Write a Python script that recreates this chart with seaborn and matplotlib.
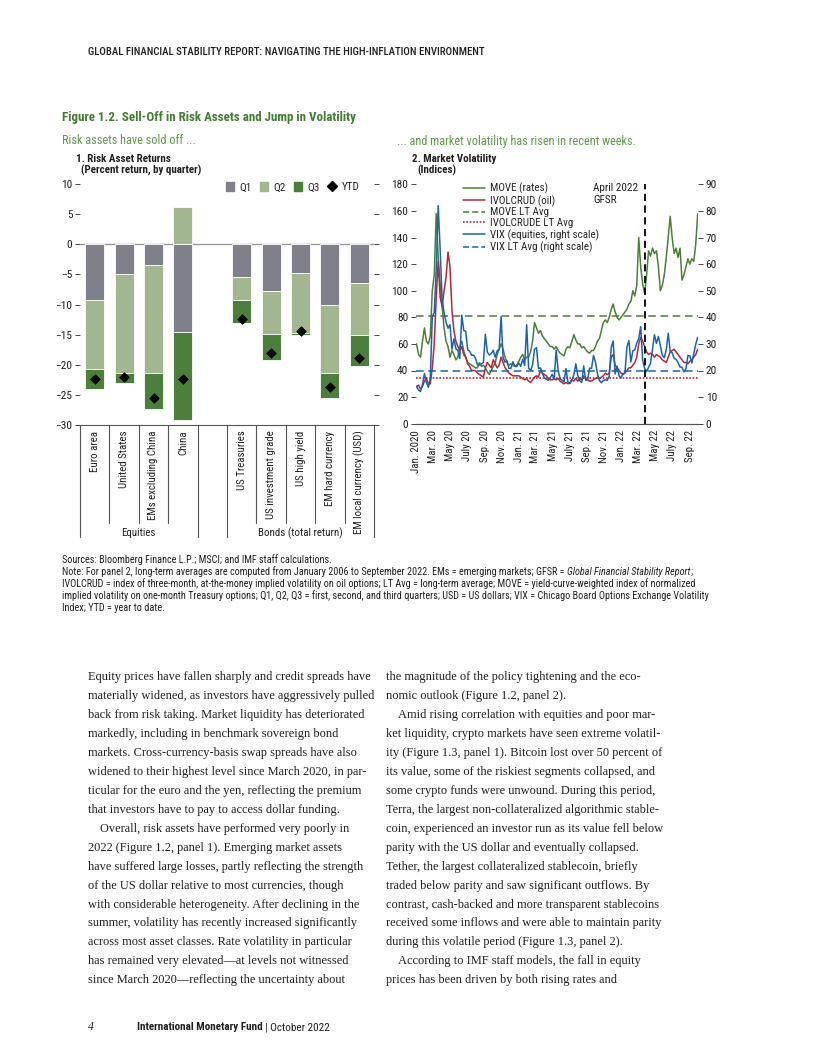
import numpy as np
import pandas as pd
import matplotlib
matplotlib.use("Agg")
import matplotlib.pyplot as plt
import matplotlib.transforms as mtransforms
from matplotlib.lines import Line2D
from matplotlib.patches import Patch
from matplotlib import font_manager
import seaborn as sns

# ---------------------------------------------------------------- data
categories = ["Euro area", "United States", "EMs excluding China", "China",
              "US Treasuries", "US investment grade", "US high yield",
              "EM hard currency", "EM local currency (USD)"]
groups = ["Equities"] * 4 + ["Bonds (total return)"] * 5
q1 = [-9.2, -4.9, -3.5, -14.5, -5.5, -7.7, -4.8, -10.0, -6.4]
q2 = [-11.5, -16.5, -17.9, 6.2, -3.8, -7.2, -9.9, -11.4, -8.7]
q3 = [-3.3, -1.7, -6.0, -14.6, -3.8, -4.3, -0.3, -4.2, -5.1]
ytd = [-22.4, -22.0, -25.5, -22.4, -12.4, -18.1, -14.4, -23.7, -18.9]

# weekly readings (Fridays), Jan 3 2020 .. Sep 30 2022
move = [60, 52, 50, 62, 72, 62, 60, 66, 100, 112, 158, 125, 105, 88, 72, 62, 58,
        50, 55, 52, 48, 50, 58, 62, 55, 50, 46, 45, 44, 43, 42, 42, 46, 43, 44,
        42, 39, 37, 40, 43, 46, 52, 56, 60, 56, 50, 46, 44, 45, 44, 43, 44,
        47, 50, 52, 48, 50, 50, 54, 62, 76, 72, 68, 70, 66, 64, 62, 60, 58, 58,
        56, 58, 55, 53, 52, 51, 56, 58, 57, 62, 67, 63, 60, 60, 57, 58, 56,
        54, 53, 55, 55, 58, 62, 64, 70, 76, 78, 76, 80, 86, 90, 84, 80, 78, 80,
        82, 84, 86, 90, 92, 100, 96, 104, 140, 118, 105, 98, 112, 130, 126, 132, 128,
        130, 118, 100, 104, 112, 125, 140, 156, 140, 128, 132, 125, 132,
        108, 112, 118, 124, 120, 124, 122, 135, 158]
ivolcrud = [28, 29, 26, 28, 32, 34, 30, 30, 42, 60, 95, 122, 95, 88, 100, 110, 129,
            118, 85, 70, 62, 58, 55, 58, 52, 50, 45, 43, 40, 40, 40, 38, 37, 36, 35,
            42, 46, 44, 42, 48, 45, 42, 44, 50, 46, 42, 40, 38, 37, 36, 36, 36,
            36, 35, 34, 33, 34, 32, 31, 33, 35, 36, 35, 40, 38, 37, 36, 34, 33, 33,
            34, 33, 34, 32, 31, 30, 31, 30, 31, 33, 32, 34, 32, 34, 33, 36, 34,
            33, 32, 32, 33, 34, 35, 34, 35, 36, 38, 37, 38, 50, 52, 44, 42, 40, 38,
            37, 38, 40, 42, 42, 44, 46, 50, 60, 65, 62, 58, 54, 52, 53, 52, 50,
            52, 51, 50, 48, 47, 46, 50, 54, 55, 56, 54, 52, 50,
            48, 46, 46, 45, 47, 48, 50, 52, 56]
vix = [14.0, 12.6, 12.1, 14.6, 18.8, 15.5, 13.7, 17.1, 40.1, 41.9, 57.8, 82.0, 65.5,
       46.8, 41.7, 38.2, 35.9, 37.2, 28.0, 31.9, 28.2, 27.5, 24.5, 40.8, 35.1, 34.7,
       27.7, 27.3, 25.7, 25.8, 24.5, 22.2, 22.1, 22.5, 23.0, 33.6, 26.9, 25.8, 26.4,
       27.6, 25.0, 27.4, 28.0, 40.3, 24.9, 23.1, 23.7, 20.8, 20.8, 23.3, 21.6, 21.5,
       22.8, 21.6, 24.3, 21.9, 37.2, 20.9, 20.0, 22.1, 28.0, 28.6, 20.7, 21.0, 18.9,
       17.3, 16.7, 16.3, 17.3, 18.6, 16.7, 27.6, 20.2, 16.8, 16.4, 15.7, 20.7, 15.6,
       15.1, 16.2, 18.5, 22.5, 18.2, 16.2, 15.5, 21.7, 16.4, 16.4, 20.9, 20.8, 25.7,
       23.1, 18.8, 16.3, 15.4, 16.3, 16.5, 16.3, 17.9, 28.6, 31.1, 18.7, 21.6, 18.0, 17.2,
       18.8, 19.2, 28.9, 31.2, 23.2, 27.4, 27.8, 30.3, 32.0, 36.5, 23.9, 20.8,
       19.6, 21.2, 22.7, 28.2, 33.4, 30.2, 32.8, 29.4, 25.7, 24.8, 27.8, 34.0, 27.2,
       26.7, 24.6, 24.2, 23.0, 21.3, 21.2, 19.5, 20.6, 25.6, 25.5, 22.8, 26.3, 29.9, 32.5]
move_lt_avg = 81.0
ivolcrud_lt_avg = 34.5
vix_lt_avg = 19.8
gfsr_date = "2022-03-28"
date_tick_labels = ["Jan. 2020", "Mar. 20", "May 20", "July 20", "Sep. 20", "Nov. 20",
                    "Jan. 21", "Mar. 21", "May 21", "July 21", "Sep. 21", "Nov. 21",
                    "Jan. 22", "Mar. 22", "May 22", "July 22", "Sep. 22"]

dates = pd.date_range("2020-01-03", periods=len(move), freq="W-FRI")

# ---------------------------------------------------------------- style
sns.set_theme(style="white")
avail = {f.name for f in font_manager.fontManager.ttflist}
COND = next((f for f in ["Liberation Sans Narrow", "DejaVu Sans Condensed",
                         "Roboto Condensed", "Open Sans Condensed", "Noto Sans Condensed"]
             if f in avail), "Liberation Sans")
SANS = [COND, "DejaVu Sans"]
SERIF = ["Liberation Serif", "DejaVu Serif"]
plt.rcParams["font.family"] = SANS
plt.rcParams["axes.unicode_minus"] = True

INK = "#231f20"
C_Q1, C_Q2, C_Q3 = "#80808a", "#a2b78f", "#4c7f3b"
C_MOVE, C_OIL, C_VIX = "#4d7f37", "#b3283b", "#1b63ae"
C_TITLE, C_SUB = "#437c34", "#5e9b4a"

W, H = 816, 1056
fig = plt.figure(figsize=(W / 100, H / 100), dpi=100)
fig.patch.set_facecolor("white")
renderer = fig.canvas.get_renderer()


def put(x, y, s, size, family=SANS, color=INK, ha="left", va="center", **kw):
    return fig.text(x / W, 1 - y / H, s, fontsize=size, family=family, color=color,
                    ha=ha, va=va, **kw)


def width_px(s, size, family=SANS, **kw):
    t = fig.text(0, 0, s, fontsize=size, family=family, **kw)
    w = t.get_window_extent(renderer).width
    t.remove()
    return w


def fit(s, target, family=SANS, **kw):
    return 10 * target / width_px(s, 10, family=family, **kw)


# ---------------------------------------------------------------- header & titles
hdr = "GLOBAL FINANCIAL STABILITY REPORT: NAVIGATING THE HIGH-INFLATION ENVIRONMENT"
put(88, 52, hdr, min(fit(hdr, 395, weight="medium"), 8.0), color="#222222",
    weight="medium")
ttl = "Figure 1.2. Sell-Off in Risk Assets and Jump in Volatility"
put(62, 117, ttl, fit(ttl, 294, weight="bold"), color=C_TITLE, weight="bold")
put(62, 141, "Risk assets have sold off ...", 8.8, color=C_SUB)
put(397, 141, "... and market volatility has risen in recent weeks.", 8.8, color=C_SUB)
put(76, 159, "1. Risk Asset Returns", 7.9, weight="bold")
put(81, 170, "(Percent return, by quarter)", 7.9, weight="bold")
put(412, 159, "2. Market Volatility", 7.9, weight="bold")
put(417, 170, "(Indices)", 7.9, weight="bold")

# ---------------------------------------------------------------- panel 1
ax1 = fig.add_axes([80 / W, 1 - 425 / H, (374 - 80) / W, (425 - 184) / H])
xpos, gap = [], 0
for i, g in enumerate(groups):
    if i > 0 and g != groups[i - 1]:
        gap += 1
    xpos.append(i + gap)
xpos = np.array(xpos, dtype=float)

pos_base = np.zeros(len(xpos))
neg_base = np.zeros(len(xpos))
for vals, col, lab in [(q1, C_Q1, "Q1"), (q2, C_Q2, "Q2"), (q3, C_Q3, "Q3")]:
    v = np.array(vals, dtype=float)
    bottom = np.where(v >= 0, pos_base, neg_base)
    ax1.bar(xpos, v, bottom=bottom, width=0.65, color=col, edgecolor="white",
            linewidth=0.6, zorder=2, label=lab)
    pos_base += np.where(v >= 0, v, 0)
    neg_base += np.where(v < 0, v, 0)
sns.scatterplot(x=xpos, y=ytd, ax=ax1, marker="D", s=24, color="black",
                edgecolor="black", linewidth=0.5, zorder=4, legend=False)
ax1.axhline(0, color="#9a9a9a", lw=1.0, zorder=1)
ax1.set_xlim(-0.5, xpos[-1] + 0.5)
ax1.set_ylim(-30, 10)
ax1.set_yticks(range(-30, 11, 5))
ax1.set_xticks(xpos)
ax1.set_xticklabels(categories, rotation=90, va="top", ha="center", fontsize=7.8, color=INK)
ax1.tick_params(axis="x", length=0, pad=4)
ax1.tick_params(axis="y", left=True, right=True, labelleft=True, labelright=False,
                direction="out", length=3.5, width=0.7, color="#444444",
                labelsize=8.2, labelcolor=INK, pad=2)
ax1.set_xlabel("")
ax1.set_ylabel("")
for sp in ["top", "left", "right"]:
    ax1.spines[sp].set_visible(False)
ax1.spines["bottom"].set_color("#555555")
ax1.spines["bottom"].set_linewidth(0.8)
ax1.grid(False)

trans1 = mtransforms.blended_transform_factory(ax1.transData, ax1.transAxes)
gnames = list(dict.fromkeys(groups))
for gname in gnames:
    idx = [i for i, g in enumerate(groups) if g == gname]
    lo, hi = xpos[idx[0]] - 0.5, xpos[idx[-1]] + 0.5
    for xb in (lo, hi):
        ax1.plot([xb, xb], [0, -0.465], transform=trans1, color="#555555", lw=0.8,
                 clip_on=False)
    for i in idx[:-1]:
        xb = xpos[i] + 0.5
        ax1.plot([xb, xb], [0, -0.407], transform=trans1, color="#555555", lw=0.8,
                 clip_on=False)
    ax1.text((lo + hi) / 2, -0.448, gname, transform=trans1, ha="center", va="center",
             fontsize=7.8, color=INK)

h1 = [Patch(color=C_Q1), Patch(color=C_Q2), Patch(color=C_Q3),
      Line2D([], [], marker="D", ls="none", color="black", markersize=5)]
ax1.legend(h1, ["Q1", "Q2", "Q3", "YTD"], ncol=4, loc="upper right",
           bbox_to_anchor=(0.965, 1.025), frameon=False, fontsize=8,
           handlelength=0.75, handleheight=0.75, handletextpad=0.45,
           columnspacing=0.75, borderaxespad=0)

# ---------------------------------------------------------------- panel 2
ax2 = fig.add_axes([416 / W, 1 - 423.7 / H, (698 - 416) / W, (423.7 - 184.3) / H])
ax2.axhline(move_lt_avg, color=C_MOVE, lw=1.1, ls=(0, (5, 3)), zorder=1)
ax2.axhline(ivolcrud_lt_avg, color=C_OIL, lw=1.2, ls=(0, (1, 1)), zorder=1)
sns.lineplot(x=dates, y=move, ax=ax2, color=C_MOVE, lw=1.1, legend=False, zorder=2)
sns.lineplot(x=dates, y=ivolcrud, ax=ax2, color=C_OIL, lw=1.1, legend=False, zorder=3)
ax2.set_ylim(0, 180)
ax2.set_yticks(range(0, 181, 20))
ax2.set_xlim(pd.Timestamp("2020-01-01"), pd.Timestamp("2022-10-01"))

ax3 = ax2.twinx()
ax3.axhline(vix_lt_avg, color=C_VIX, lw=1.1, ls=(0, (5, 3)), zorder=1)
sns.lineplot(x=dates, y=vix, ax=ax3, color=C_VIX, lw=1.1, legend=False, zorder=2)
ax3.set_ylim(0, 90)
ax3.set_yticks(range(0, 91, 10))
ax3.axvline(pd.Timestamp(gfsr_date), color="black", lw=1.3, ls=(0, (4, 2.5)), zorder=5)
ax3.set_xlim(pd.Timestamp("2020-01-01"), pd.Timestamp("2022-10-01"))

tick_dates = pd.date_range("2020-01-01", periods=len(date_tick_labels), freq="2MS")
ax2.set_xticks(tick_dates)
ax2.set_xticklabels(date_tick_labels, rotation=90, va="top", ha="center", fontsize=7.8,
                    color=INK)
ax2.tick_params(axis="x", direction="inout", length=5, width=0.7, color="#444444", pad=2)
ax2.tick_params(axis="y", direction="out", length=3.5, width=0.7, color="#444444",
                labelsize=8.2, labelcolor=INK, pad=2, left=True)
ax3.tick_params(axis="y", direction="out", length=3.5, width=0.7, color="#444444",
                labelsize=8.2, labelcolor=INK, pad=2, right=True)
for a in (ax2, ax3):
    a.set_xlabel("")
    a.set_ylabel("")
    a.grid(False)
    for sp in ["top", "left", "right"]:
        a.spines[sp].set_visible(False)
    a.spines["bottom"].set_color("#555555")
    a.spines["bottom"].set_linewidth(0.8)

ax3.annotate("April 2022\nGFSR", xy=(pd.Timestamp(gfsr_date), 1.0),
             xycoords=("data", "axes fraction"), xytext=(-5, 1),
             textcoords="offset points", ha="right", va="top", multialignment="left",
             fontsize=8, color=INK)

h2 = [Line2D([], [], color=C_MOVE, lw=1.1),
      Line2D([], [], color=C_OIL, lw=1.1),
      Line2D([], [], color=C_MOVE, lw=1.1, ls=(0, (4, 2))),
      Line2D([], [], color=C_OIL, lw=1.2, ls=(0, (1, 1))),
      Line2D([], [], color=C_VIX, lw=1.1),
      Line2D([], [], color=C_VIX, lw=1.1, ls=(0, (4, 2)))]
l2 = ["MOVE (rates)", "IVOLCRUD (oil)", "MOVE LT Avg", "IVOLCRUDE LT Avg",
      "VIX (equities, right scale)", "VIX LT Avg (right scale)"]
ax3.legend(h2, l2, loc="upper left", bbox_to_anchor=(0.152, 1.025), frameon=False,
           fontsize=7.9, handlelength=2.0, handletextpad=0.4, labelspacing=0.08,
           borderaxespad=0)

# ---------------------------------------------------------------- notes
note_lines = [
    "Sources: Bloomberg Finance L.P.; MSCI; and IMF staff calculations.",
    "Note: For panel 2, long-term averages are computed from January 2006 to September 2022. EMs = emerging markets; GFSR = ",
    "IVOLCRUD = index of three-month, at-the-money implied volatility on oil options; LT Avg = long-term average; MOVE = yield-curve-weighted index of normalized",
    "implied volatility on one-month Treasury options; Q1, Q2, Q3 = first, second, and third quarters; USD = US dollars; VIX = Chicago Board Options Exchange Volatility",
    "Index; YTD = year to date.",
]
ns = fit(note_lines[3], 643)
for k, s in enumerate(note_lines):
    put(62, 560 + 12 * k, s, ns)
w2 = width_px(note_lines[1], ns)
put(62 + w2, 572, "Global Financial Stability Report", ns, style="italic")
w3 = width_px("Global Financial Stability Report", ns, style="italic")
put(62 + w2 + w3, 572, ";", ns)

# ---------------------------------------------------------------- body text
col1 = [
    "Equity prices have fallen sharply and credit spreads have",
    "materially widened, as investors have aggressively pulled",
    "back from risk taking. Market liquidity has deteriorated",
    "markedly, including in benchmark sovereign bond",
    "markets. Cross-currency-basis swap spreads have also",
    "widened to their highest level since March 2020, in par-",
    "ticular for the euro and the yen, reflecting the premium",
    "that investors have to pay to access dollar funding.",
    "Overall, risk assets have performed very poorly in",
    "2022 (Figure 1.2, panel 1). Emerging market assets",
    "have suffered large losses, partly reflecting the strength",
    "of the US dollar relative to most currencies, though",
    "with considerable heterogeneity. After declining in the",
    "summer, volatility has recently increased significantly",
    "across most asset classes. Rate volatility in particular",
    "has remained very elevated\u2014at levels not witnessed",
    "since March 2020\u2014reflecting the uncertainty about",
]
col2 = [
    "the magnitude of the policy tightening and the eco-",
    "nomic outlook (Figure 1.2, panel 2).",
    "Amid rising correlation with equities and poor mar-",
    "ket liquidity, crypto markets have seen extreme volatil-",
    "ity (Figure 1.3, panel 1). Bitcoin lost over 50 percent of",
    "its value, some of the riskiest segments collapsed, and",
    "some crypto funds were unwound. During this period,",
    "Terra, the largest non-collateralized algorithmic stable-",
    "coin, experienced an investor run as its value fell below",
    "parity with the US dollar and eventually collapsed.",
    "Tether, the largest collateralized stablecoin, briefly",
    "traded below parity and saw significant outflows. By",
    "contrast, cash-backed and more transparent stablecoins",
    "received some inflows and were able to maintain parity",
    "during this volatile period (Figure 1.3, panel 2).",
    "According to IMF staff models, the fall in equity",
    "prices has been driven by both rising rates and",
]
indent1 = {8}
indent2 = {2, 15}
bs = 0.5 * (fit(col1[0], 284, family=SERIF) + fit(col1[1], 284, family=SERIF))
for k, s in enumerate(col1):
    put(88 + (12 if k in indent1 else 0), 677 + 18.96 * k, s, bs, family=SERIF)
for k, s in enumerate(col2):
    put(386 + (12 if k in indent2 else 0), 677 + 18.96 * k, s, bs, family=SERIF)

# ---------------------------------------------------------------- footer
put(88, 1027, "4", 8.5, family=SERIF, style="italic")
t1 = "International Monetary Fund"
put(137, 1027, t1, 8.0, weight="bold")
wf = width_px(t1, 8.0, weight="bold")
put(137 + wf + 2, 1027, "| October 2022", 8.0)

fig.savefig("out.png", dpi=100, facecolor="white")
